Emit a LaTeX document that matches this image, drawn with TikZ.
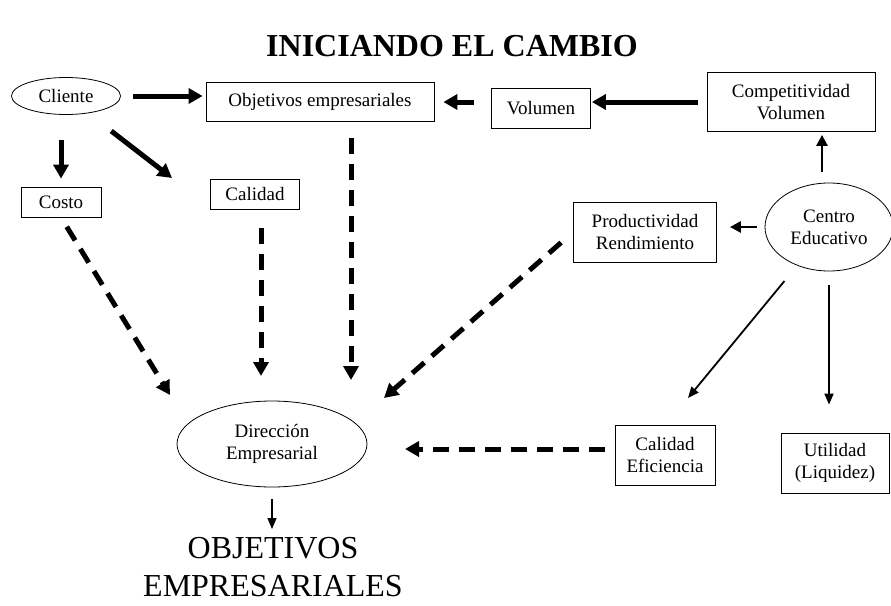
\documentclass[tikz,border=0pt]{standalone}
\usepackage{fontspec}
\setmainfont{Liberation Serif}
\usepackage{tikz}
\usetikzlibrary{positioning}
\usetikzlibrary{shapes.geometric}
\usetikzlibrary{arrows.meta}
\tikzset{>=stealth}
\newcommand{\txt}{\fontsize{19}{22}\selectfont}
\tikzset{
  box/.style={draw, line width=0.8pt, rectangle, inner sep=0pt, align=center, font=\txt},
  oval/.style={draw, line width=0.8pt, ellipse, inner sep=0pt, align=center, font=\txt},
  heavy/.style={line width=5pt, -{Triangle[length=14pt,width=15pt]}},
  heavydash/.style={line width=5pt, dash pattern=on 16pt off 10pt, -{Triangle[length=14pt,width=15pt]}},
  medium/.style={line width=2.6pt, -{Triangle[length=11pt,width=11pt]}},
  light/.style={line width=1.8pt, -{Triangle[length=11pt,width=9pt]}}
}

\begin{document}
\begin{tikzpicture}[x=1pt,y=-1pt]
\useasboundingbox (0,0) rectangle (891,605);

\node (title) at (452,46){\fontsize{32}{36}\selectfont\bfseries INICIANDO EL CAMBIO};

\node [oval, minimum width=109pt, minimum height=37pt] (cliente) at (66,96){Cliente};
\node [box, minimum width=228pt, minimum height=39pt] (objetivos) at (320,102){Objetivos empresariales};
\node [box, minimum width=99pt, minimum height=40pt] (volumen) at (541,108){Volumen};
\node [box, minimum width=168pt, minimum height=59pt] (comp) at (791,102){Competitividad\\Volumen};
\node [oval, minimum width=128pt, minimum height=88pt] (centro) at (829,227){Centro\\Educativo};
\node [box, minimum width=143pt, minimum height=60pt] (prod) at (645,232){Productividad\\Rendimiento};
\node [box, minimum width=80pt, minimum height=30pt] (costo) at (61,202){Costo};
\node [box, minimum width=89pt, minimum height=30pt] (calidad) at (255,194){Calidad};
\node [oval, minimum width=190pt, minimum height=86pt] (direccion) at (272,444){Direcci\'on\\Empresarial};
\node [box, minimum width=100pt, minimum height=60pt] (calef) at (665,455){Calidad\\Eficiencia};
\node [box, minimum width=108pt, minimum height=60pt] (utilidad) at (835,463){Utilidad\\(Liquidez)};
\node [anchor=north, inner sep=0pt, align=center, font=\fontsize{32}{38}\selectfont] (final) at (273,537){OBJETIVOS\\EMPRESARIALES};

\coordinate (tcal) at (172,178);
\coordinate (d1) at (170,395);
\coordinate (d2) at (261,376);
\coordinate (d3) at (351,380);
\coordinate (d4) at (384,398);
\coordinate (d5) at (405,449);
\coordinate (tef) at (688,398);

\draw [heavy, shorten <=12pt, shorten >=3pt] (cliente.east) -- (cliente.east -| objetivos.west);
\draw [heavy, shorten <=17pt, shorten >=9pt] (objetivos.east -| volumen.west) -- (objetivos.east);
\draw [heavy, shorten <=9pt, shorten >=1pt] (comp.west) -- (comp.west -| volumen.east);
\draw [heavy, shorten <=25pt, shorten >=8pt] (costo.north |- cliente.south) -- (costo.north);
\draw [heavy, shorten <=29pt] (cliente) -- (tcal);

\draw [medium, shorten <=11pt, shorten >=3pt] ([xshift=-7pt]centro.north) -- ([xshift=-7pt]centro.north |- comp.south);
\draw [medium, shorten <=8pt, shorten >=13pt] (centro.west) -- (centro.west -| prod.east);

\draw [heavydash, shorten <=11pt] (costo.south) -- (d1);
\draw [heavydash, shorten <=19pt] (calidad.south -| d2) -- (d2);
\draw [heavydash, shorten <=16pt] (objetivos.south -| d3) -- (d3);
\draw [heavydash, shorten <=16pt] (prod.west) -- (d4);
\draw [heavydash, shorten <=10pt] (d5 -| calef.west) -- (d5);

\draw [light, shorten <=20pt] (centro) -- (tef);
\draw [light, shorten <=14pt, shorten >=28pt] (centro.south) -- (centro.south |- utilidad.north);
\draw [light, line width=1.4pt, shorten <=12pt, shorten >=8pt] (direccion.south) -- (direccion.south |- final.north);
\end{tikzpicture}
\end{document}
